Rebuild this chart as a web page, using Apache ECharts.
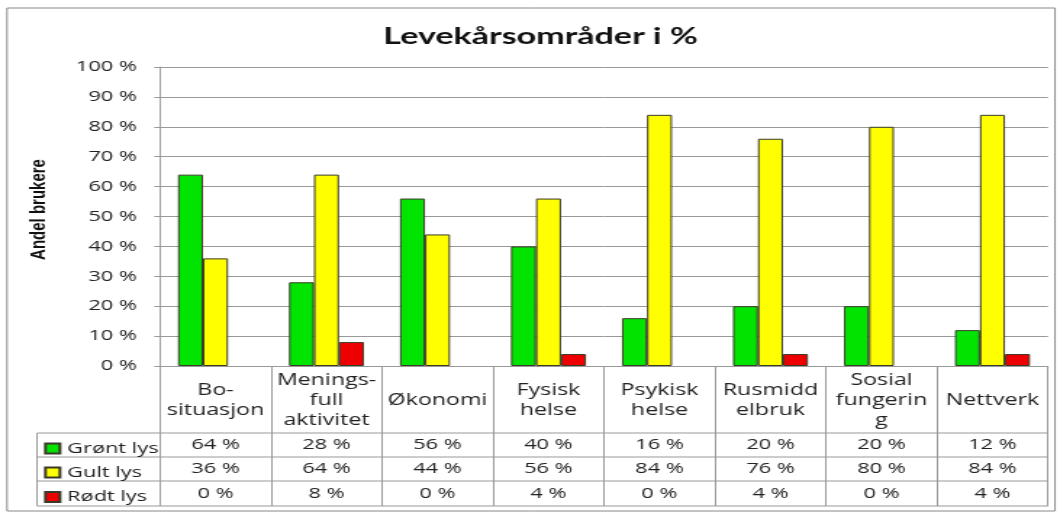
<!DOCTYPE html>
<html>
<head>
<meta charset="utf-8">
<script src="https://cdn.jsdelivr.net/npm/echarts@6/dist/echarts.min.js"></script>
<style>
  html, body { margin: 0; padding: 0; background: #fff; overflow: hidden; }
  #chart { height: 513px; transform-origin: 0 0; }
</style>
</head>
<body>
<div id="chart"></div>
<script>
// data
const categories = ['Bo-\nsituasjon', 'Menings-\nfull\naktivitet', 'Økonomi', 'Fysisk\nhelse',
  'Psykisk\nhelse', 'Rusmidd\nelbruk', 'Sosial\nfungerin\ng', 'Nettverk'];
const seriesNames = ['Grønt lys', 'Gult lys', 'Rødt lys'];
const gronnt = [64, 28, 56, 40, 16, 20, 20, 12];
const gult = [36, 64, 44, 56, 84, 76, 80, 84];
const rodt = [0, 8, 0, 4, 0, 4, 0, 4];
const yTicks = [0, 10, 20, 30, 40, 50, 60, 70, 80, 90, 100];

// the original picture is stretched sideways, so the chart is drawn narrow and scaled
const S = 1.45;
const el = document.getElementById('chart');
el.style.width = (1060 / S) + 'px';
el.style.transform = 'scaleX(' + S + ')';

// layout in picture pixels
const plotLeft = 160, plotRight = 1048, plotTop = 67, plotBottom = 366;
const rowLines = [433, 457, 481, 506];
const tableLeft = 37;
const font = '"Open Sans"';
const fsText = 16;   // words
const fsNum = 15;    // numbers
const txt = '#222';
const lineCol = '#999';

const values = [gronnt, gult, rodt];
const colors = ['#00e400', '#ffff00', '#ee0000'];
const rowMid = i => (rowLines[i] + rowLines[i + 1]) / 2;

const rowAxes = values.map((arr, i) => ({
  type: 'category',
  data: arr.map(v => v + ' %'),
  position: 'bottom',
  axisLine: { show: false },
  axisTick: { show: false },
  splitLine: { show: false },
  axisLabel: {
    interval: 0,
    margin: rowMid(i) - plotBottom,
    verticalAlign: 'middle',
    fontFamily: font, fontSize: fsNum, color: txt
  }
}));

// one legend per table row, so each key sits in its own row
const legends = seriesNames.map((n, i) => ({
  data: [n],
  left: 44 / S,
  top: rowMid(i) - 4,
  icon: 'rect',
  itemWidth: 10,
  itemHeight: 10,
  selectedMode: false,
  padding: 0,
  textStyle: { fontFamily: font, fontSize: 15, color: txt }
}));

const tableLines = rowLines.map(y => ({
  type: 'line', silent: true,
  shape: { x1: tableLeft / S, y1: y, x2: plotRight / S, y2: y },
  style: { stroke: lineCol, lineWidth: 1 }
}));
tableLines.push({
  type: 'line', silent: true,
  shape: { x1: tableLeft / S, y1: rowLines[0], x2: tableLeft / S, y2: rowLines[3] },
  style: { stroke: lineCol, lineWidth: 1 }
});
tableLines.push({
  type: 'rect', silent: true,
  shape: { x: 7 / S, y: 8, width: 1048 / S, height: 503 },
  style: { fill: 'none', stroke: '#888', lineWidth: 1 }
});

const myChart = echarts.init(el);
myChart.setOption({
  animation: false,
  title: {
    text: 'Levekårsområder i %',
    left: 376 / S,
    top: 19,
    textStyle: { fontFamily: 'Lato', fontWeight: 'bold', fontSize: 23.5, color: '#111' }
  },
  legend: legends,
  grid: {
    left: plotLeft / S,
    right: (1060 - plotRight) / S,
    top: plotTop,
    bottom: 513 - plotBottom,
    containLabel: false
  },
  graphic: tableLines,
  xAxis: [
    {
      type: 'category',
      data: categories,
      axisLine: { show: true, lineStyle: { color: lineCol } },
      axisTick: { show: true, interval: 0, length: rowLines[3] - plotBottom, lineStyle: { color: lineCol } },
      axisLabel: {
        interval: 0, margin: 34, verticalAlign: 'middle', lineHeight: 20,
        fontFamily: font, fontSize: fsText, color: txt
      }
    }
  ].concat(rowAxes),
  yAxis: {
    type: 'value',
    min: yTicks[0],
    max: yTicks[yTicks.length - 1],
    interval: 10,
    name: 'Andel brukere',
    nameLocation: 'middle',
    nameRotate: 90,
    nameGap: 76,
    nameTextStyle: {
      fontFamily: '"Liberation Sans Narrow", "Liberation Sans"', fontWeight: 'bold', fontSize: 15, color: '#111',
      padding: [0, 0, 0, 14]
    },
    axisLine: { show: true, lineStyle: { color: lineCol } },
    axisTick: { show: true, length: 4, lineStyle: { color: lineCol } },
    axisLabel: { formatter: '{value} %', margin: 16, fontFamily: font, fontSize: fsNum, color: txt },
    splitLine: { show: true, lineStyle: { color: lineCol } }
  },
  series: values.map((arr, i) => ({
    name: seriesNames[i],
    type: 'bar',
    xAxisIndex: 0,
    // a zero bar is left out, as in the picture
    data: arr.map(v => (v === 0 ? { value: 0, itemStyle: { borderWidth: 0 } } : v)),
    barWidth: 25 / S,
    barGap: '0%',
    itemStyle: { color: colors[i], borderColor: '#3a3a2a', borderWidth: 1 }
  }))
});
</script>
</body>
</html>
